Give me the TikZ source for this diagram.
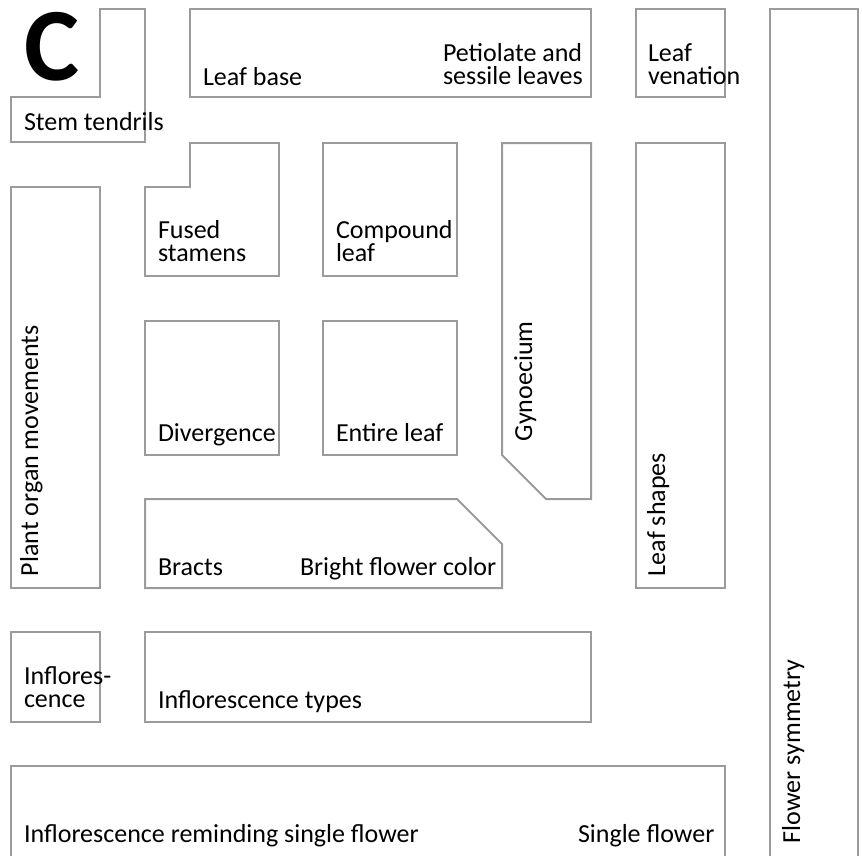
\documentclass[tikz,border=0pt]{standalone}
\usepackage{fontspec}
\setmainfont{Carlito}
\begin{document}
\begin{tikzpicture}[x=1pt,y=-1pt,
  box/.style={draw={rgb,255:red,155;green,155;blue,155},line width=2pt,line join=miter},
  lbl/.style={anchor=base west,inner sep=0pt,outer sep=0pt,font=\fontsize{26}{23}\selectfont,align=left},
  vlbl/.style={lbl,rotate=90}]
\useasboundingbox (0,0) rectangle (862,855);
% big letter
\node[anchor=base west,inner sep=0pt] (C) at (24,80) {\fontsize{104}{104}\selectfont\bfseries C};
% shapes
\draw[box] (100,9) -- (145,9) -- (145,142) -- (11,142) -- (11,97) -- (100,97) -- cycle;
\draw[box] (190,9) rectangle (591,97);
\draw[box] (636,9) rectangle (725,97);
\draw[box] (770,9) -- (858,9) -- (858,860) -- (770,860) -- cycle;
\draw[box] (190,143) -- (279,143) -- (279,276) -- (145,276) -- (145,187) -- (190,187) -- cycle;
\draw[box] (323,143) rectangle (457,276);
\draw[box] (502,143) -- (591,143) -- (591,499) -- (546,499) -- (502,455) -- cycle;
\draw[box] (636,143) rectangle (725,588);
\draw[box] (11,187) rectangle (100,588);
\draw[box] (145,321) rectangle (279,455);
\draw[box] (323,321) rectangle (457,455);
\draw[box] (145,499) -- (457,499) -- (502,544) -- (502,588) -- (145,588) -- cycle;
\draw[box] (11,632) rectangle (100,722);
\draw[box] (145,632) rectangle (591,722);
\draw[box] (11,766) -- (725,766) -- (725,860) -- (11,860) -- cycle;
% labels
\node[lbl] (st) at (24,130) {Stem tendrils};
\node[lbl] (lb) at (203,85) {Leaf base};
\node[lbl] (ps) at (443,84) {Petiolate and\\sessile leaves};
\node[lbl] (lv) at (648,84) {Leaf\\venation};
\node[lbl] (fs) at (158,261) {Fused\\stamens};
\node[lbl] (cl) at (336,261) {Compound\\leaf};
\node[lbl] (dv) at (158,441) {Divergence};
\node[lbl] (el) at (336,441) {Entire leaf};
\node[lbl] (br) at (158,575) {Bracts};
\node[lbl] (bf) at (300,575) {Bright flower color};
\node[lbl] (if) at (24,707) {Inflores-\\cence};
\node[lbl] (it) at (158,708) {Inflorescence types};
\node[lbl] (ir) at (24,842) {Inflorescence reminding single flower};
\node[lbl] (sf) at (578,842) {Single flower};
\node[vlbl] (pm) at (38,576) {Plant organ movements};
\node[vlbl] (gy) at (532,441) {Gynoecium};
\node[vlbl] (ls) at (665,576) {Leaf shapes};
\node[vlbl] (fl) at (800,843) {Flower symmetry};
\end{tikzpicture}
\end{document}
